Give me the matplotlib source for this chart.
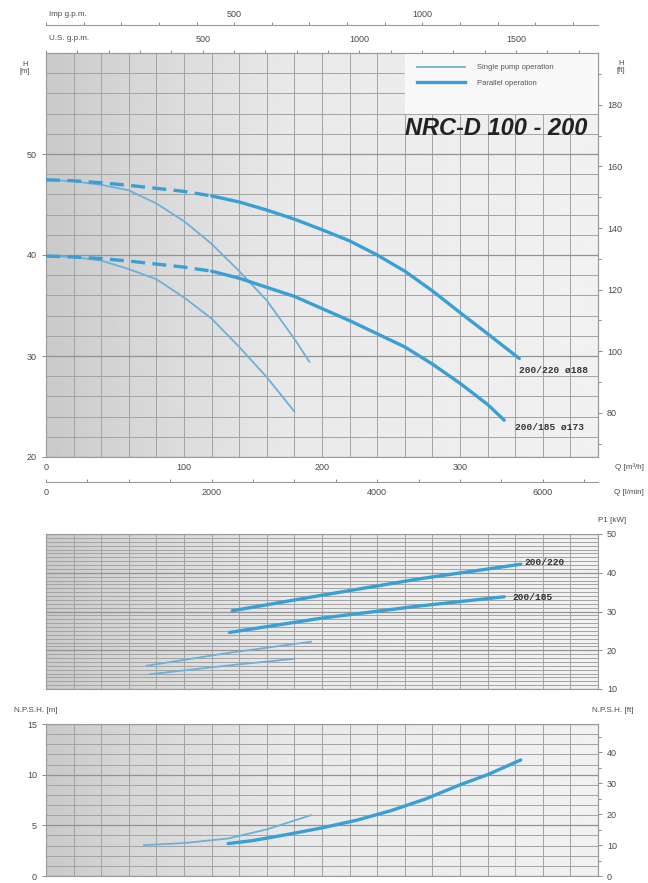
import numpy as np
import matplotlib
matplotlib.use('Agg')
import matplotlib.pyplot as plt
from matplotlib.ticker import MultipleLocator, FixedLocator, NullFormatter
from matplotlib.patches import Rectangle
from matplotlib.lines import Line2D

plt.rcParams['font.family'] = ['Liberation Sans', 'DejaVu Sans']

# ---------------- data ----------------
# Head curves  Q [m3/h] -> H [m]
q_par_220 = [0, 20, 40, 60, 80, 100, 120, 140, 160, 180, 200, 220, 240, 260, 280, 300, 320, 343]
h_par_220 = [47.45, 47.35, 47.15, 46.9, 46.6, 46.3, 45.85, 45.25, 44.45, 43.55, 42.5, 41.4, 40.0,
             38.4, 36.45, 34.3, 32.2, 29.75]
q_par_185 = [0, 20, 40, 60, 80, 100, 120, 140, 160, 180, 200, 220, 240, 260, 280, 300, 320, 332]
h_par_185 = [39.9, 39.8, 39.65, 39.4, 39.1, 38.8, 38.4, 37.7, 36.8, 35.9, 34.7, 33.5, 32.2,
             30.9, 29.2, 27.3, 25.2, 23.65]
q_sgl_220 = [0, 20, 40, 60, 80, 100, 120, 140, 160, 180, 191]
h_sgl_220 = [47.45, 47.3, 46.95, 46.4, 45.1, 43.35, 41.1, 38.4, 35.5, 31.7, 29.4]
q_sgl_185 = [0, 20, 40, 60, 80, 100, 120, 140, 160, 180]
h_sgl_185 = [39.9, 39.8, 39.45, 38.6, 37.6, 35.8, 33.7, 30.9, 27.9, 24.5]
dash_until_q = 120  # parallel curves are dashed up to this flow

# Power curves  Q [m3/h] -> P1 [kW]
q_pow_par_220 = [135, 200, 270, 344]
p_pow_par_220 = [30.2, 34.2, 38.4, 42.2]
q_pow_par_185 = [133, 200, 270, 332]
p_pow_par_185 = [24.6, 28.3, 31.4, 33.8]
q_pow_sgl_220 = [73, 130, 192]
p_pow_sgl_220 = [16.0, 19.2, 22.2]
q_pow_sgl_185 = [75, 130, 180]
p_pow_sgl_185 = [13.8, 16.0, 17.8]

# NPSH curves  Q [m3/h] -> NPSH [m]
q_npsh_par = [132, 150, 175, 200, 225, 250, 275, 300, 320, 344]
n_npsh_par = [3.2, 3.5, 4.1, 4.75, 5.5, 6.45, 7.6, 9.0, 10.0, 11.45]
q_npsh_sgl = [71, 100, 132, 160, 192]
n_npsh_sgl = [3.05, 3.25, 3.7, 4.6, 6.0]

q_tick_labels = [0, 100, 200, 300]
npsh_ft_ticks = [0, 10, 20, 30, 40]
curve_labels_h = ['200/220 ø188', '200/185 ø173']
curve_labels_p = ['200/220', '200/185']
legend_labels = ['Single pump operation', 'Parallel operation']
title = 'NRC-D 100 - 200'

# ---------------- styling ----------------
W, H = 648, 883
THICK = '#3a9fd4'
THIN = '#6db0d8'
TXT = '#4a4a4a'
GRID_MIN = '#a3a3a3'
GRID_MAJ = '#929292'
TS = 6.5

fig = plt.figure(figsize=(W / 100, H / 100), dpi=100)
fig.patch.set_facecolor('white')


def fig_axes(x0, y0, x1, y1):
    return fig.add_axes([x0 / W, 1 - y1 / H, (x1 - x0) / W, (y1 - y0) / H])


def figtext(x, y, s, **kw):
    kw.setdefault('fontsize', 5.8)
    kw.setdefault('color', TXT)
    fig.text(x / W, 1 - y / H, s, **kw)


grad = np.interp(np.linspace(0, 1, 300), [0, 0.12, 0.45, 1.0], [0.79, 0.83, 0.915, 0.945])
grad_img = np.tile(grad, (2, 1))


def style_panel(ax, ylim, ymaj, ymin):
    ax.set_xlim(0, 400)
    ax.set_ylim(*ylim)
    ax.imshow(grad_img, extent=[0, 1, 0, 1], transform=ax.transAxes, aspect='auto',
              cmap='gray', vmin=0, vmax=1, zorder=0, interpolation='bilinear')
    ax.set_axisbelow(True)
    ax.xaxis.set_major_locator(FixedLocator(q_tick_labels))
    ax.xaxis.set_minor_locator(MultipleLocator(20))
    ax.yaxis.set_major_locator(MultipleLocator(ymaj))
    ax.yaxis.set_minor_locator(MultipleLocator(ymin))
    ax.grid(which='minor', color=GRID_MIN, lw=0.7)
    ax.grid(which='major', axis='x', color=GRID_MIN, lw=0.7)
    ax.grid(which='major', axis='y', color=GRID_MAJ, lw=0.9)
    for s in ax.spines.values():
        s.set_color('#9a9a9a')
        s.set_linewidth(0.8)
    ax.tick_params(which='both', colors='#777', labelcolor=TXT, labelsize=TS, length=3, width=0.6)
    ax.tick_params(which='minor', length=0)


# ================= main head panel =================
ax = fig_axes(46, 53, 598, 457)
style_panel(ax, (20, 60), 10, 2)
ax.set_yticks([20, 30, 40, 50])
ax.tick_params(axis='x', length=0, pad=4)

ax.plot(q_sgl_220, h_sgl_220, color=THIN, lw=1.3, zorder=3, solid_capstyle='round')
ax.plot(q_sgl_185, h_sgl_185, color=THIN, lw=1.3, zorder=3, solid_capstyle='round')
for q, h in ((q_par_220, h_par_220), (q_par_185, h_par_185)):
    j = q.index(dash_until_q)
    ax.plot(q[:j + 1], h[:j + 1], color=THICK, lw=2.4, ls=(0, (4.2, 2.2)), zorder=4)
    ax.plot(q[j:], h[j:], color=THICK, lw=2.4, zorder=4, solid_capstyle='round')

ax.text(q_par_220[-1], 28.6, curve_labels_h[0], fontsize=6.8, family='Liberation Mono',
        fontweight='bold', color='#333', ha='left', va='center', zorder=5)
ax.text(q_par_185[-1] + 8, 22.9, curve_labels_h[1], fontsize=6.8, family='Liberation Mono',
        fontweight='bold', color='#333', ha='left', va='center', zorder=5)

# legend box
ax.add_patch(Rectangle((260, 54), 140, 6, facecolor='#f8f8f8', edgecolor='none', zorder=1.5))
handles = [Line2D([], [], color=THIN, lw=1.3), Line2D([], [], color=THICK, lw=2.4)]
leg = ax.legend(handles, legend_labels, loc='upper left', bbox_to_anchor=(0.66, 0.99),
                frameon=False, fontsize=5.5, handlelength=6.2, handletextpad=1.6,
                labelspacing=1.1, labelcolor='#555')
leg.set_zorder(6)

ax.text(0.815, 0.814, title, transform=ax.transAxes, ha='center', va='center',
        fontsize=17, fontweight='bold', fontstyle='italic', color='#222', zorder=6)

# right ft axis
sec_ft = ax.secondary_yaxis('right', functions=(lambda h: h * 3.28084, lambda f: f / 3.28084))
sec_ft.yaxis.set_major_locator(FixedLocator([80, 100, 120, 140, 160, 180]))
sec_ft.yaxis.set_minor_locator(MultipleLocator(10))
sec_ft.tick_params(which='both', colors='#777', labelcolor=TXT, labelsize=TS, length=3, width=0.6)
sec_ft.tick_params(which='minor', length=2)
sec_ft.spines['right'].set_color('#9a9a9a')

# top US gpm axis
sec_us = ax.secondary_xaxis('top', functions=(lambda q: q * 4.4029, lambda g: g / 4.4029))
sec_us.xaxis.set_major_locator(FixedLocator([500, 1000, 1500]))
sec_us.xaxis.set_minor_locator(MultipleLocator(100))
sec_us.tick_params(which='both', colors='#777', labelcolor=TXT, labelsize=TS, length=2.5,
                   width=0.6, pad=4)
sec_us.spines['top'].set_color('#9a9a9a')

# Imp gpm axis
sec_imp = ax.secondary_xaxis(1.069, functions=(lambda q: q * 3.6662, lambda g: g / 3.6662))
sec_imp.xaxis.set_major_locator(FixedLocator([500, 1000]))
sec_imp.xaxis.set_minor_locator(MultipleLocator(100))
sec_imp.tick_params(which='both', colors='#777', labelcolor=TXT, labelsize=TS, length=2.5,
                    width=0.6, pad=2)
sec_imp.spines['top'].set_color('#9a9a9a')

# l/min axis
sec_l = ax.secondary_xaxis(-0.062, functions=(lambda q: q * 16.6667, lambda l: l / 16.6667))
sec_l.xaxis.set_major_locator(FixedLocator([0, 2000, 4000, 6000]))
sec_l.xaxis.set_minor_locator(MultipleLocator(500))
sec_l.tick_params(which='both', direction='in', colors='#777', labelcolor=TXT, labelsize=TS,
                  length=2.5, width=0.6, pad=4)
sec_l.spines['bottom'].set_color('#9a9a9a')

figtext(49, 15, 'Imp g.p.m.', ha='left', va='center')
figtext(49, 39, 'U.S. g.p.m.', ha='left', va='center')
figtext(25, 68, 'H\n[m]', ha='center', va='center', fontsize=5.5, linespacing=1.0)
figtext(621, 67, 'H\n[ft]', ha='center', va='center', fontsize=5.5, linespacing=1.0)
figtext(644, 467, 'Q [m³/h]', ha='right', va='center')
figtext(644, 493, 'Q [l/min]', ha='right', va='center')

# ================= power panel =================
ax2 = fig_axes(46, 534, 598, 689)
style_panel(ax2, (10, 50), 10, 1)
ax2.xaxis.set_major_formatter(NullFormatter())
ax2.tick_params(axis='x', length=0)
ax2.yaxis.tick_right()
ax2.tick_params(axis='y', which='major', length=3)
ax2.plot(q_pow_sgl_220, p_pow_sgl_220, color=THIN, lw=1.3, zorder=3)
ax2.plot(q_pow_sgl_185, p_pow_sgl_185, color=THIN, lw=1.3, zorder=3)
ax2.plot(q_pow_par_220, p_pow_par_220, color=THICK, lw=2.4, zorder=4, solid_capstyle='round')
ax2.plot(q_pow_par_185, p_pow_par_185, color=THICK, lw=2.4, zorder=4, solid_capstyle='round')
ax2.text(q_pow_par_220[-1] + 3, 42.7, curve_labels_p[0], fontsize=6.8, family='Liberation Mono',
         fontweight='bold', color='#333', ha='left', va='center', zorder=5)
ax2.text(q_pow_par_185[-1] + 6, 33.6, curve_labels_p[1], fontsize=6.8, family='Liberation Mono',
         fontweight='bold', color='#333', ha='left', va='center', zorder=5)
figtext(612, 521, 'P1 [kW]', ha='center', va='center')

# ================= NPSH panel =================
ax3 = fig_axes(46, 724, 598, 876)
style_panel(ax3, (0, 15), 5, 1)
ax3.xaxis.set_major_formatter(NullFormatter())
ax3.tick_params(axis='x', length=0)
ax3.plot(q_npsh_sgl, n_npsh_sgl, color=THIN, lw=1.3, zorder=3)
ax3.plot(q_npsh_par, n_npsh_par, color=THICK, lw=2.4, zorder=4, solid_capstyle='round')
sec_ft3 = ax3.secondary_yaxis('right', functions=(lambda h: h * 3.28084, lambda f: f / 3.28084))
sec_ft3.yaxis.set_major_locator(FixedLocator(npsh_ft_ticks))
sec_ft3.yaxis.set_minor_locator(MultipleLocator(5))
sec_ft3.tick_params(which='both', colors='#777', labelcolor=TXT, labelsize=TS, length=3, width=0.6)
sec_ft3.tick_params(which='minor', length=2)
sec_ft3.spines['right'].set_color('#9a9a9a')
figtext(14, 710, 'N.P.S.H. [m]', ha='left', va='center')
figtext(633, 711, 'N.P.S.H. [ft]', ha='right', va='center')

fig.savefig('out.png', dpi=100, facecolor='white')
